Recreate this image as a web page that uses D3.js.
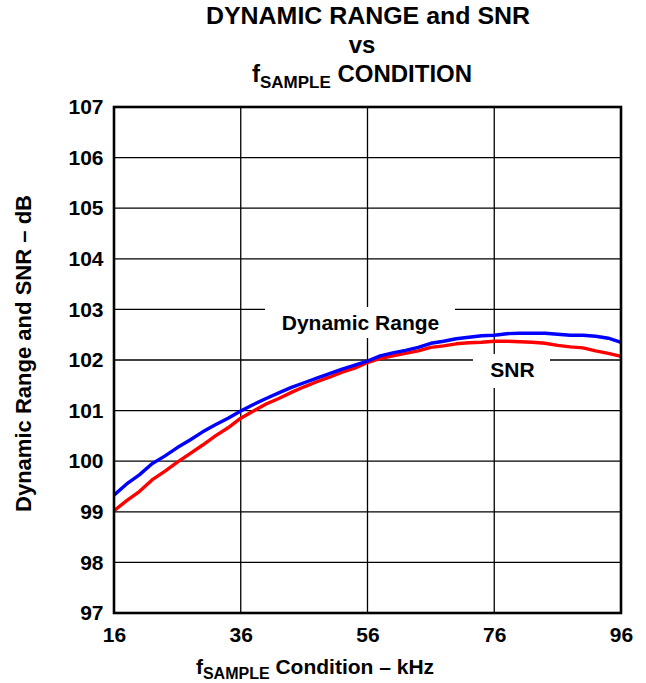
<!DOCTYPE html>
<html><head><meta charset="utf-8">
<script src="https://cdn.jsdelivr.net/npm/d3@7"></script>
<style>body{margin:0;background:#fff}svg{display:block}</style>
</head><body>
<svg id="c" width="646" height="683"></svg>
<script>
const freq = [16,18,20,22,24,26,28,30,32,34,36,38,40,42,44,46,48,50,52,54,56,58,60,62,64,66,68,70,72,74,76,78,80,82,84,86,88,90,92,94,96];
const dynamicRange = [99.33,99.55,99.73,99.95,100.10,100.27,100.42,100.58,100.72,100.85,100.99,101.12,101.24,101.35,101.46,101.55,101.64,101.73,101.82,101.90,101.98,102.08,102.14,102.19,102.25,102.33,102.37,102.42,102.45,102.48,102.49,102.52,102.53,102.53,102.53,102.51,102.49,102.49,102.47,102.43,102.35];
const snr = [99.02,99.22,99.40,99.63,99.80,99.98,100.15,100.32,100.50,100.66,100.85,100.99,101.13,101.24,101.36,101.47,101.57,101.66,101.76,101.84,101.95,102.03,102.08,102.13,102.18,102.25,102.28,102.32,102.34,102.35,102.37,102.37,102.36,102.35,102.33,102.29,102.26,102.24,102.18,102.13,102.07];
const xTicks = [16,36,56,76,96];
const yTicks = [97,98,99,100,101,102,103,104,105,106,107];

const svg = d3.select("#c");
const FONT = "'Liberation Sans', Arial, Helvetica, sans-serif";
const L = 114, R = 621, T = 107, B = 613;
const x = d3.scaleLinear().domain([16,96]).range([L,R]);
const y = d3.scaleLinear().domain([97,107]).range([B,T]);

// grid
const g = svg.append("g");
g.selectAll(".vg").data(xTicks.slice(1,-1)).join("line")
  .attr("x1",d=>x(d)).attr("x2",d=>x(d)).attr("y1",T).attr("y2",B)
  .attr("stroke","#000").attr("stroke-width",1.3);
g.selectAll(".hg").data(yTicks.slice(1,-1)).join("line")
  .attr("x1",L).attr("x2",R).attr("y1",d=>y(d)).attr("y2",d=>y(d))
  .attr("stroke","#000").attr("stroke-width",1.3);

// label backgrounds
svg.append("rect").attr("x",265).attr("y",307).attr("width",190).attr("height",31).attr("fill","#fff");
svg.append("rect").attr("x",473).attr("y",354).attr("width",77).attr("height",34).attr("fill","#fff");

// curves
const line = d3.line().x((d,i)=>x(freq[i])).y(d=>y(d));
svg.append("path").datum(snr).attr("d",line).attr("fill","none").attr("stroke","#ff0000").attr("stroke-width",3.4).attr("stroke-linejoin","round");
svg.append("path").datum(dynamicRange).attr("d",line).attr("fill","none").attr("stroke","#0000ff").attr("stroke-width",3.4).attr("stroke-linejoin","round");

// border
svg.append("rect").attr("x",L).attr("y",T).attr("width",R-L).attr("height",B-T)
  .attr("fill","none").attr("stroke","#000").attr("stroke-width",2.6);

// axes tick labels
const xa = d3.axisBottom(x).tickValues(xTicks).tickSize(0).tickPadding(14).tickFormat(d3.format("d"));
const xg = svg.append("g").attr("transform",`translate(0,${B})`).call(xa);
xg.select(".domain").remove();
xg.selectAll("text").attr("font-family",FONT).attr("font-weight","bold").attr("font-size",21).attr("fill","#000");

const ya = d3.axisLeft(y).tickValues(yTicks).tickSize(0).tickPadding(10.5).tickFormat(d3.format("d"));
const yg = svg.append("g").attr("transform",`translate(${L},0)`).call(ya);
yg.select(".domain").remove();
yg.selectAll("text").attr("font-family",FONT).attr("font-weight","bold").attr("font-size",21).attr("fill","#000");

// titles
function txt(xp, yp, anchor, size){
  return svg.append("text").attr("x",xp).attr("y",yp).attr("text-anchor",anchor)
    .attr("font-family",FONT).attr("font-weight","bold").attr("font-size",size).attr("fill","#000");
}
txt(368,23.5,"middle",24).attr("textLength",324).attr("lengthAdjust","spacingAndGlyphs").text("DYNAMIC RANGE and SNR");
txt(362,52.5,"middle",24).text("vs");
const t3 = txt(362,81.5,"middle",24);
t3.append("tspan").text("f");
t3.append("tspan").attr("font-size",17).attr("dy",6).text("SAMPLE");
t3.append("tspan").attr("dy",-6).text(" CONDITION");

const xt = txt(315,674,"middle",21);
xt.append("tspan").text("f");
xt.append("tspan").attr("font-size",16).attr("dy",5).text("SAMPLE");
xt.append("tspan").attr("dy",-5).text(" Condition \u2013 kHz");

txt(0,0,"middle",22).attr("transform","translate(31,353.5) rotate(-90)")
  .attr("textLength",317).attr("lengthAdjust","spacingAndGlyphs").text("Dynamic Range and SNR \u2013 dB");

txt(360.5,330,"middle",21).text("Dynamic Range");
txt(512.5,377,"middle",21).text("SNR");
</script>
</body></html>
